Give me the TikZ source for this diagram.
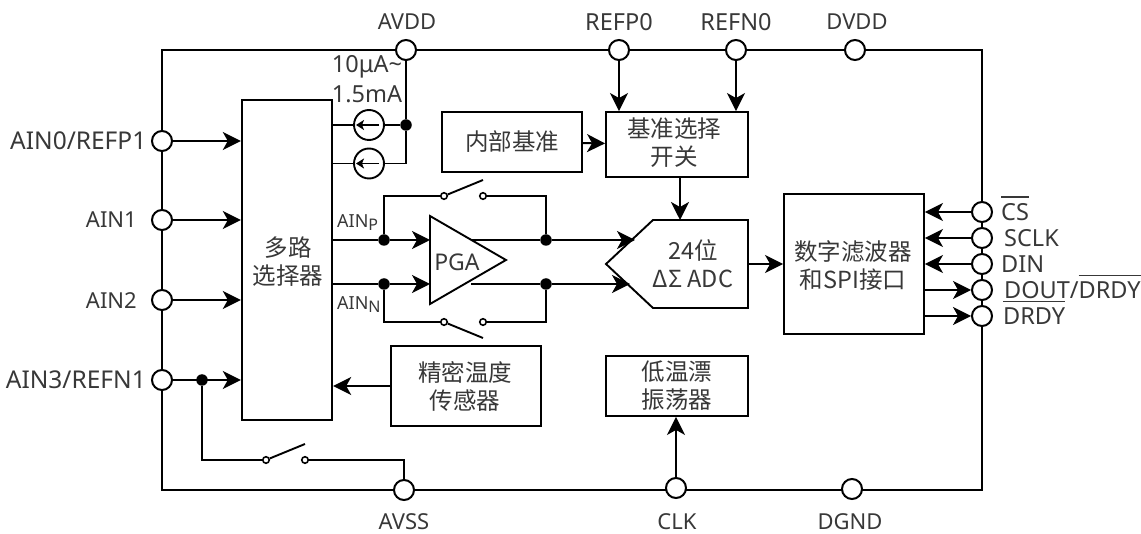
\documentclass[tikz,border=0pt]{standalone}
\usepackage{fontspec}
\setmainfont{Noto Sans}
\newfontfamily\cjk{Noto Sans CJK SC}
\usetikzlibrary{arrows.meta,calc}
\newcommand{\ovl}[2][22.5pt]{\setbox0\hbox{#2}\rlap{\rule[#1]{\wd0}{1.5pt}}\box0 }
\tikzset{
  wire/.style={line width=1.9pt,line cap=butt},
  arr/.style={wire,-{Stealth[length=18pt,width=18pt,inset=5pt]}},
  sarr/.style={line width=1.6pt,-{Stealth[length=8pt,width=10pt,inset=2pt]}},
  pin/.style={circle,draw,fill=white,line width=2pt,minimum size=20pt,inner sep=0pt},
  dot/.style={circle,fill=black,minimum size=11.5pt,inner sep=0pt},
  sw/.style={circle,draw,fill=white,line width=1.6pt,minimum size=6.5pt,inner sep=0pt},
  src/.style={circle,draw,fill=white,line width=1.9pt,minimum size=30pt,inner sep=0pt},
  blk/.style={draw,line width=1.9pt,fill=white,inner sep=0pt,text=black!78,font=\cjk\fontsize{23.5}{28}\selectfont,align=center},
  blt/.style={inner sep=0pt,text=black!78,font=\cjk\fontsize{23.5}{28}\selectfont,align=center},
  lab/.style={inner sep=0pt,font=\fontsize{23.5}{27}\selectfont,text=black!78},
  labn/.style={lab,font=\fontsize{22}{26}\selectfont},
  slab/.style={inner sep=0pt,font=\fontsize{18}{22}\selectfont,text=black!78}
}
\begin{document}
\begin{tikzpicture}[x=1pt,y=-1pt]
\useasboundingbox (0,0) rectangle (1141,534);
% frame
\coordinate (tl) at (162,50); \coordinate (br) at (982,490);
\draw[wire] (tl) rectangle (br);
% blocks
\node[blk,minimum width=90.5pt,minimum height=320pt] (mux) at (287,260) {};
\node[blt] (muxt) at (288,262) {多路\\选择器};
\node[blk,minimum width=140pt,minimum height=60pt] (ref) at (512,142) {内部基准};
\node[blk,minimum width=142pt,minimum height=65pt] (sel) at (677,144.5) {};
\node[blt] (selt) at (674,142.5) {基准选择\\开关};
\node[blk,minimum width=140pt,minimum height=140pt] (dig) at (854,264) {};
\node[blt] (digt) at (853,266) {数字滤波器\\和SPI接口};
\node[blk,minimum width=150pt,minimum height=80pt] (tmp) at (466,386) {};
\node[blt] (tmpt) at (465,386) {精密温度\\传感器};
\node[blk,minimum width=142pt,minimum height=60pt] (osc) at (677,386) {低温漂\\振荡器};
% ADC
\coordinate (adcA) at (606,264);\coordinate (adcB) at (653,220);\coordinate (adcC) at (748,220);\coordinate (adcD) at (748,308);\coordinate (adcE) at (653,308);
% pins
\node[pin] (avdd) at (406,50) {};
\node[pin] (refp) at (619,50) {};
\node[pin] (refn) at (736,50) {};
\node[pin] (dvdd) at (855,50) {};
\node[pin] (a0) at (162,141) {};
\node[pin] (a1) at (162,220) {};
\node[pin] (a2) at (162,300) {};
\node[pin] (a3) at (162,380) {};
\node[pin] (avss) at (404,490) {};
\node[pin] (clk) at (676,488) {};
\node[pin] (dgnd) at (852,489) {};
\node[pin] (cs) at (982,212) {};
\node[pin] (sclk) at (982,238) {};
\node[pin] (din) at (982,264) {};
\node[pin] (dout) at (982,290) {};
\node[pin] (drdy) at (982,316) {};
% pin wires
\draw[arr] (a0) -- (mux.west |- a0);
\draw[arr] (a1) -- (mux.west |- a1);
\draw[arr] (a2) -- (mux.west |- a2);
\draw[arr] (a3) -- (mux.west |- a3);
\draw[arr] (refp) -- (refp |- sel.north);
\draw[arr] (refn) -- (refn |- sel.north);
\draw[arr] (ref) -- (sel);
\draw[arr] (sel.south -| 680,0) -- (680,220);
\draw[arr] (tmp.west) -- (mux.east |- tmp.west);
\draw[arr] (clk) -- (clk |- osc.south);
\draw[arr] (cs) -- (dig.east |- cs);
\draw[arr] (sclk) -- (dig.east |- sclk);
\draw[arr] (din) -- (dig.east |- din);
\draw[arr] (dig.east |- dout) -- (dout);
\draw[arr] (dig.east |- drdy) -- (drdy);
\draw[arr] (748,264) -- (dig.west);
% current sources
\node[dot] (ndot) at (406,125) {};
\coordinate (s2r) at (406,163.5);
\node[src] (s1) at (369,125) {};
\node[src] (s2) at (369,163.5) {};
\draw[wire] (avdd) -- (ndot);
\draw[wire] (ndot) -- (s2r) -- (s2);
\draw[wire] (ndot) -- (s1);
\draw[wire] (s1) -- (mux.east |- s1);
\draw[wire] (s2) -- (mux.east |- s2);
\draw[sarr] (379,125) -- (356,125);
\draw[sarr] (379,163.5) -- (356,163.5);
% PGA and signal lines
\node[dot] (dpl) at (384,240) {};
\node[dot] (dnl) at (384,284) {};
\node[dot] (dpr) at (546,240) {};
\node[dot] (dnr) at (546,284) {};
\draw[wire] (mux.east |- dpl) -- (dpl);
\draw[wire] (mux.east |- dnl) -- (dnl);
\draw[line width=1.9pt,fill=white,line join=miter] (adcB) -- (adcC) -- (adcD) -- (adcE) -- (adcA) -- cycle;
\draw[arr] (dpr) -- (635,240);
\draw[arr] (dnr) -- (630,284);
\draw[arr] (dpl) -- (430,240);
\draw[arr] (dnl) -- (430,284);
\draw[line width=1.9pt] (430,216) -- (506,260) -- (430,304) -- cycle;
\draw[wire] (471,240) -- (dpr);
\draw[wire] (471,284) -- (dnr);
\node[lab,font=\fontsize{23}{27}\selectfont] (pga) at (457,262) {PGA};
\node[blt] (adct) at (693,264) {24位\\ΔΣ ADC};
% switches
\node[sw] (s1a) at (444,196) {};\node[sw] (s1b) at (483,196) {};
\node[sw] (s2a) at (444,322) {};\node[sw] (s2b) at (483,322) {};
\node[sw] (s3a) at (266,460) {};\node[sw] (s3b) at (305,460) {};
\coordinate (b1) at (483,180);\coordinate (b2) at (483,338);\coordinate (b3) at (305,444);
\draw[wire] (dpl) -- (384,196) -- (s1a);
\draw[wire] (s1b) -- (546,196) -- (dpr);
\draw[wire] (dnl) -- (384,322) -- (s2a);
\draw[wire] (s2b) -- (546,322) -- (dnr);
\draw[wire] (s1a) -- (b1);
\draw[wire] (s2a) -- (b2);
\draw[wire] (s3a) -- (b3);
\node[dot] (da3) at (202,380) {};
\draw[wire] (da3) -- (202,460) -- (s3a);
\draw[wire] (s3b) -- (404,460) -- (avss);
% labels
\node[labn] (lavdd) at (407,22) {AVDD};
\node[lab] (lrefp) at (619,22) {REFP0};
\node[lab] (lrefn) at (736,22) {REFN0};
\node[labn] (ldvdd) at (857,22) {DVDD};
\node[lab] (li1) at (367,67) {10μA\textasciitilde};
\node[lab] (li2) at (367,94) {1.5mA};
\node[lab,anchor=east,font=\fontsize{24.5}{28}\selectfont] (la0) at (146.5,141) {AIN0/REFP1};
\node[labn,anchor=east] (la1) at (137,220) {AIN1};
\node[labn,anchor=east] (la2) at (137,301) {AIN2};
\node[lab,anchor=east,font=\fontsize{24.5}{28}\selectfont] (la3) at (146,380) {AIN3/REFN1};
\node[labn,anchor=base] (lavss) at (404,529.5) {AVSS};
\node[labn,anchor=base] (lclk) at (677,529.5) {CLK};
\node[labn,anchor=base] (ldgnd) at (850,529.5) {DGND};
\node[lab,anchor=base west] (lcs) at (1001,220.5) {\ovl{CS}};
\node[lab,anchor=base west] (lsclk) at (1004,246.5) {SCLK};
\node[lab,anchor=base west] (ldin) at (1001,272.5) {DIN};
\node[lab,anchor=base west] (ldout) at (1004,299) {DOUT/\ovl{DRDY}};
\node[lab,anchor=base west] (ldrdy) at (1003,325) {\ovl{DRDY}};
\node[slab,anchor=base west] (lp) at (337,228) {AIN\raisebox{-3pt}{\fontsize{16}{18}\selectfont P}};
\node[slab,anchor=base west] (ln) at (337,310) {AIN\raisebox{-3pt}{\fontsize{16}{18}\selectfont N}};
\end{tikzpicture}
\end{document}
